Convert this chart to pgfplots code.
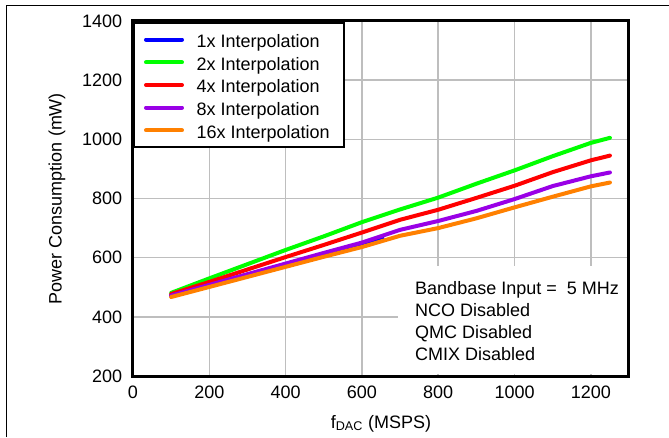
\documentclass[border=0pt]{standalone}
\usepackage{pgfplots}
\pgfplotsset{compat=1.18}
\usepackage{fontspec}
\setmainfont{Liberation Sans}
\definecolor{cblue}{RGB}{0,0,255}
\definecolor{cgreen}{RGB}{0,255,0}
\definecolor{cred}{RGB}{255,0,0}
\definecolor{cpurple}{RGB}{153,0,230}
\definecolor{corange}{RGB}{255,128,0}
\definecolor{cgrid}{RGB}{190,190,190}
\begin{document}
\fontsize{13.5pt}{16pt}\selectfont
\begin{tikzpicture}
\useasboundingbox (0,0) rectangle (501.75pt,327.75pt);
\draw[line width=0.75pt] (4.5pt,0pt) -- (4.5pt,324pt) -- (501.75pt,324pt);
\begin{axis}[
  at={(99.75pt,45.75pt)}, anchor=south west,
  scale only axis, width=372pt, height=266.25pt,
  xmin=0, xmax=1300, ymin=200, ymax=1400,
  xtick={0,200,...,1200}, ytick={200,400,...,1400},
  grid=major, major grid style={cgrid, line width=1.1pt},
  major tick length=0pt,
  axis line style={black, line width=2.25pt},
  tick label style={font=\fontsize{13.5pt}{16pt}\selectfont},
  /pgf/number format/assume math mode=true,
  /pgf/number format/1000 sep={},
  yticklabel style={xshift=-3.5pt},
  xticklabel style={yshift=-3pt},
  label style={font=\fontsize{13.5pt}{16pt}\selectfont},
  xlabel={f\textsubscript{DAC} (MSPS)},
  ylabel={Power Consumption (mW)},
  xlabel style={at={(rel axis cs:0.5,0)}, anchor=base, yshift=-39pt},
  ylabel style={at={(rel axis cs:0,0.5)}, anchor=center, yshift=57pt},
  every axis plot/.append style={line width=3pt, line cap=round, line join=round},
  legend cell align=left,
  legend image code/.code={\draw[#1] (0pt,0pt) -- (27pt,0pt);},
  legend style={at={(rel axis cs:0,1)}, anchor=north west, yshift=-1pt,
    draw=black, line width=1.5pt, fill=white,
    font=\fontsize{13.5pt}{16pt}\selectfont,
    inner xsep=7.5pt, inner ysep=4.5pt, row sep=1.5pt, column sep=6.5pt,
    nodes={inner xsep=3pt, inner ysep=0.5pt, text height=13pt, text depth=1.5pt}},
]
\fill[white] (axis cs:695,572) rectangle ([xshift=-1.2pt,yshift=1.2pt]axis cs:1300,200);
\node[anchor=north west, align=left, inner sep=0pt, font=\fontsize{13.5pt}{16.5pt}\selectfont] at (axis cs:739,521)
  {Bandbase Input =\ \ 5 MHz\\NCO Disabled\\QMC Disabled\\CMIX Disabled};
\addplot[cblue] coordinates {(100,472) (200,508) (300,543) (400,578) (500,613) (600,647) (654,665)};
\addplot[cgreen] coordinates {(100,481) (200,530) (300,578) (400,626) (500,672) (600,720) (700,763) (800,803) (900,850) (1000,895) (1100,943) (1200,988) (1250,1005)};
\addplot[cred] coordinates {(100,477) (200,518) (300,560) (400,602) (500,643) (600,685) (700,728) (800,762) (900,802) (1000,843) (1100,889) (1200,929) (1250,945)};
\addplot[cpurple] coordinates {(100,472) (200,508) (300,544) (400,580) (500,616) (600,651) (700,694) (800,724) (900,758) (1000,798) (1100,842) (1200,875) (1250,888)};
\addplot[corange] coordinates {(100,467) (200,501) (300,535) (400,569) (500,603) (600,636) (700,674) (800,700) (900,733) (1000,770) (1100,806) (1200,841) (1250,854)};
\legend{1x Interpolation, 2x Interpolation, 4x Interpolation, 8x Interpolation, 16x Interpolation}
\end{axis}
\end{tikzpicture}
\end{document}
